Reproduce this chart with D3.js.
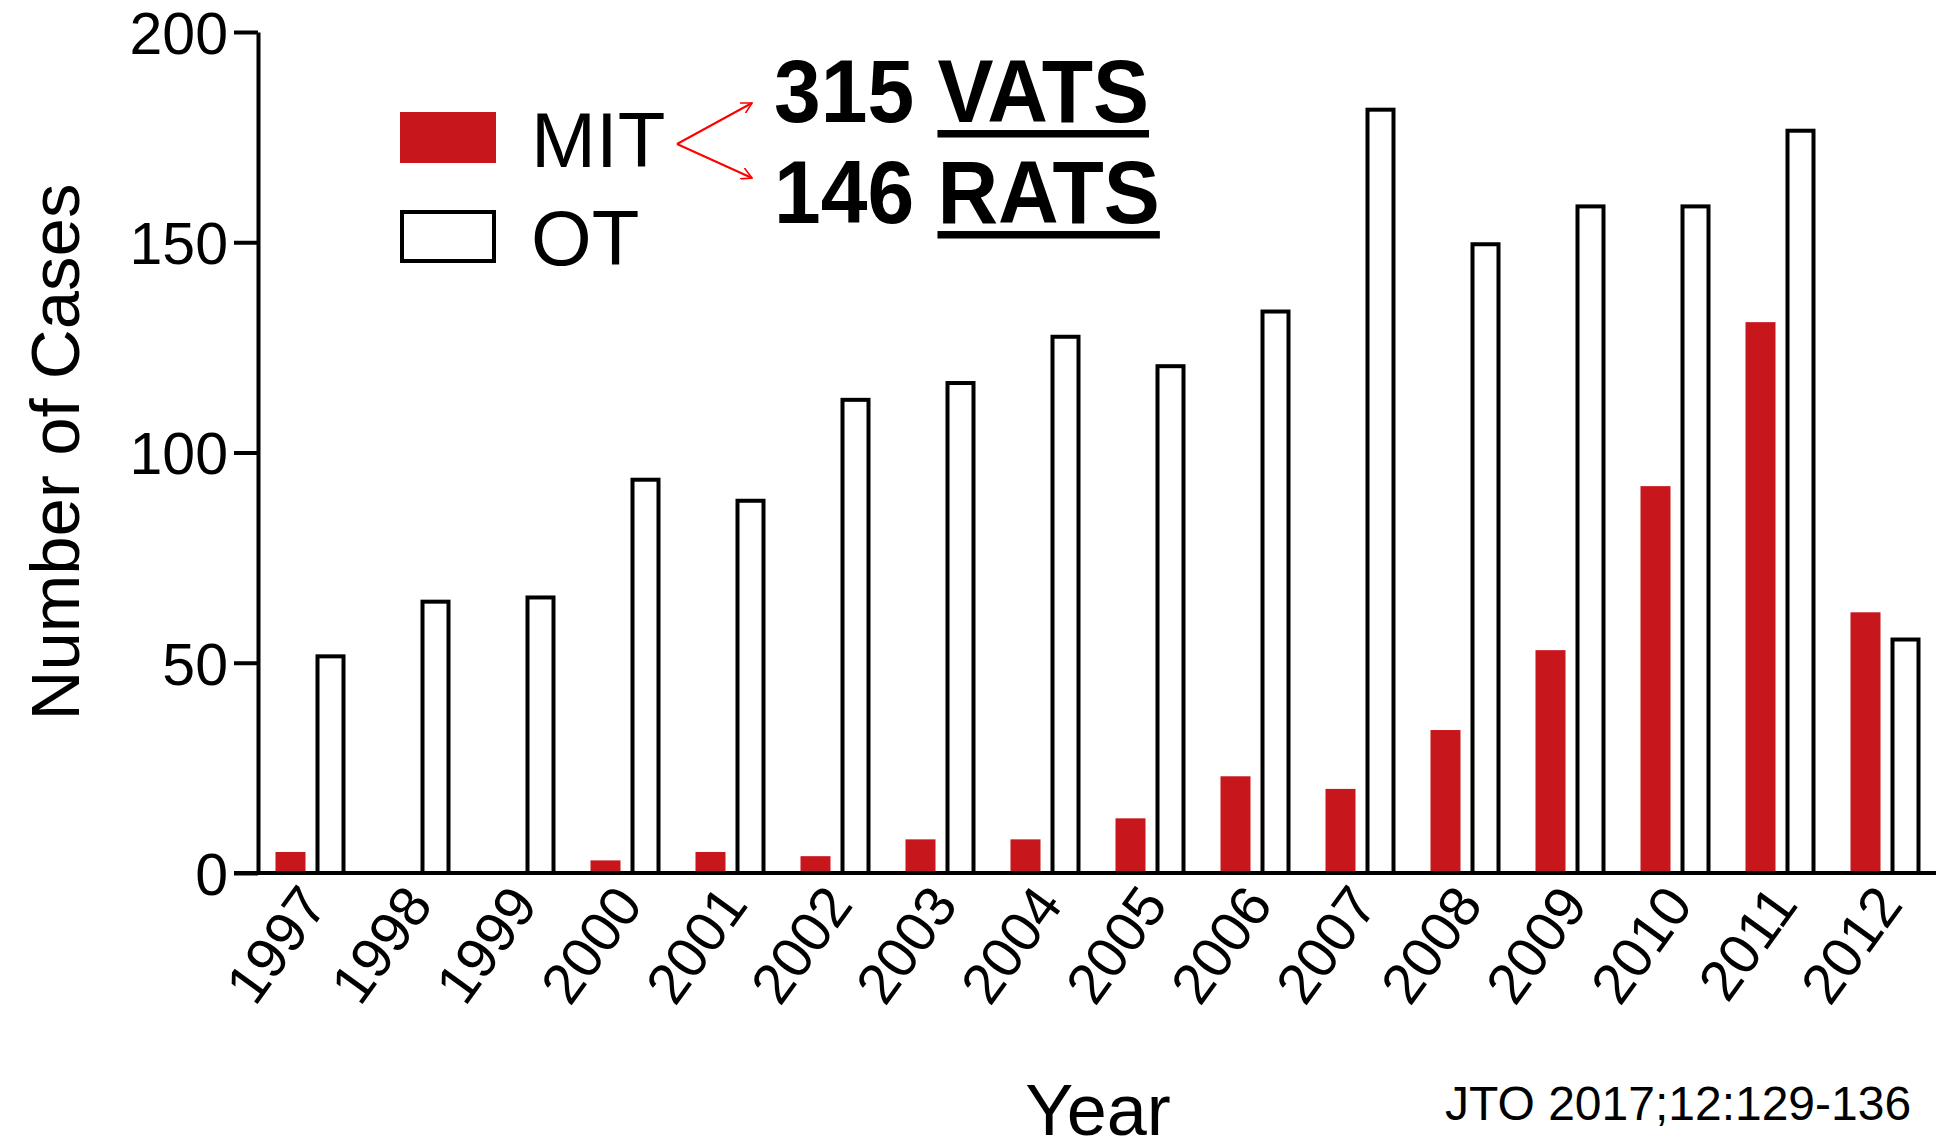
<!DOCTYPE html>
<html>
<head>
<meta charset="utf-8">
<script src="https://cdn.jsdelivr.net/npm/d3@7"></script>
<style>
  html, body { margin: 0; padding: 0; background: #fff; }
  svg { display: block; }
  text { font-family: "Liberation Sans", Arial, Helvetica, sans-serif; fill: #000; }
</style>
</head>
<body>
<svg id="chart" width="1939" height="1141"></svg>
<script>
// Annual thymectomy cases by approach
const years = ["1997","1998","1999","2000","2001","2002","2003","2004","2005","2006","2007","2008","2009","2010","2011","2012"];
const seriesNames = ["MIT", "OT"];
const mitCases = [5, 0, 0, 3, 5, 4, 8, 8, 13, 23, 20, 34, 53, 92, 131, 62];
const otCases = [52, 65, 66, 94, 89, 113, 117, 128, 121, 134, 182, 150, 159, 159, 177, 56];
const yTicks = [0, 50, 100, 150, 200];
const breakdownCounts = [315, 146];
const breakdownLabels = ["VATS", "RATS"];

const RED = "#c8171c";
const svg = d3.select("#chart");

const plot = { left: 258, right: 1936, top: 32, bottom: 873 };

const y = d3.scaleLinear().domain([0, 200]).range([plot.bottom, plot.top]);
const x0 = d3.scaleBand().domain(years).range([258, 1938]).padding(0);
const x1 = d3.scaleBand().domain(seriesNames).range([17.5, 87.5]).paddingInner(0.25).paddingOuter(0);

const rows = years.map((yr, i) => ({ year: yr, MIT: mitCases[i], OT: otCases[i] }));

// Bars
const groups = svg.append("g").selectAll("g")
  .data(rows).join("g")
  .attr("transform", d => `translate(${x0(d.year)},0)`);

groups.append("rect")
  .attr("x", x1("MIT"))
  .attr("width", x1.bandwidth())
  .attr("y", d => y(d.MIT))
  .attr("height", d => y(0) - y(d.MIT))
  .attr("fill", RED);

groups.append("rect")
  .attr("x", x1("OT") + 2)
  .attr("width", x1.bandwidth() - 4)
  .attr("y", d => y(d.OT) + 2)
  .attr("height", d => Math.max(0, y(0) - y(d.OT) - 2))
  .attr("fill", "#fff")
  .attr("stroke", "#000")
  .attr("stroke-width", 4);

// Y axis
const yAxis = svg.append("g")
  .attr("transform", `translate(${plot.left},0)`)
  .call(d3.axisLeft(y).tickValues(yTicks).tickSize(24).tickPadding(6).tickSizeOuter(0));
yAxis.select(".domain").attr("stroke", "#000").attr("stroke-width", 4);
yAxis.selectAll(".tick line").attr("stroke", "#000").attr("stroke-width", 4);
yAxis.selectAll(".tick text")
  .attr("font-size", 59)
  .attr("fill", "#000")
  .attr("dy", "0.36em");

// X baseline
svg.append("line")
  .attr("x1", 234).attr("x2", plot.right)
  .attr("y1", y(0)).attr("y2", y(0))
  .attr("stroke", "#000").attr("stroke-width", 4);

// X tick labels (rotated)
svg.append("g").selectAll("text")
  .data(years).join("text")
  .attr("transform", d => `translate(${x0(d) + x0.bandwidth() / 2 + 19},${y(0) + 32}) rotate(-54)`)
  .attr("text-anchor", "end")
  .attr("font-size", 57)
  .text(d => d);

// Axis titles
svg.append("text")
  .attr("transform", `translate(79,452) rotate(-90)`)
  .attr("text-anchor", "middle")
  .attr("font-size", 69)
  .text("Number of Cases");

svg.append("text")
  .attr("x", 1098).attr("y", 1135)
  .attr("text-anchor", "middle")
  .attr("font-size", 72)
  .text("Year");

svg.append("text")
  .attr("x", 1445).attr("y", 1120)
  .attr("font-size", 48)
  .text("JTO 2017;12:129-136");

// Legend
const legend = svg.append("g");
const legendItems = [
  { name: "MIT", y: 112, fill: RED, stroke: "none" },
  { name: "OT", y: 210, fill: "#fff", stroke: "#000" }
];
legendItems.forEach(it => {
  legend.append("rect")
    .attr("x", it.stroke === "none" ? 400 : 402)
    .attr("y", it.stroke === "none" ? it.y : it.y + 2)
    .attr("width", it.stroke === "none" ? 96 : 92)
    .attr("height", it.stroke === "none" ? 51 : 49)
    .attr("fill", it.fill)
    .attr("stroke", it.stroke)
    .attr("stroke-width", 4);
  legend.append("text")
    .attr("x", 531).attr("y", it.y + 55)
    .attr("font-size", 78)
    .text(it.name);
});

// Arrows from MIT to its breakdown
const defs = svg.append("defs");
defs.append("marker")
  .attr("id", "openArrow")
  .attr("viewBox", "0 0 12 12")
  .attr("refX", 11).attr("refY", 6)
  .attr("markerWidth", 12).attr("markerHeight", 12)
  .attr("markerUnits", "userSpaceOnUse")
  .attr("orient", "auto")
  .append("path")
  .attr("d", "M0,0 L11,6 L0,12")
  .attr("fill", "none")
  .attr("stroke", "red")
  .attr("stroke-width", 1.6);

const origin = [677, 144];
const targets = [[752, 103], [752, 178]];
targets.forEach(t => {
  svg.append("line")
    .attr("x1", origin[0]).attr("y1", origin[1])
    .attr("x2", t[0]).attr("y2", t[1])
    .attr("stroke", "red").attr("stroke-width", 2)
    .attr("marker-end", "url(#openArrow)");
});

// Breakdown annotation: count + underlined approach
const baselines = [122, 223];
breakdownCounts.forEach((c, i) => {
  const g = svg.append("g")
    .attr("transform", `translate(774,${baselines[i]}) scale(1,1.07)`);
  const cnt = g.append("text")
    .attr("x", 0).attr("y", 0)
    .attr("font-size", 84).attr("font-weight", "bold")
    .text(c + "\u00a0");
  const lx = cnt.node().getComputedTextLength();
  const lbl = g.append("text")
    .attr("x", lx).attr("y", 0)
    .attr("font-size", 84).attr("font-weight", "bold")
    .text(breakdownLabels[i]);
  const w = lbl.node().getComputedTextLength();
  g.append("rect")
    .attr("x", lx).attr("y", 7.5)
    .attr("width", w).attr("height", 7)
    .attr("fill", "#000");
});
</script>
</body>
</html>
